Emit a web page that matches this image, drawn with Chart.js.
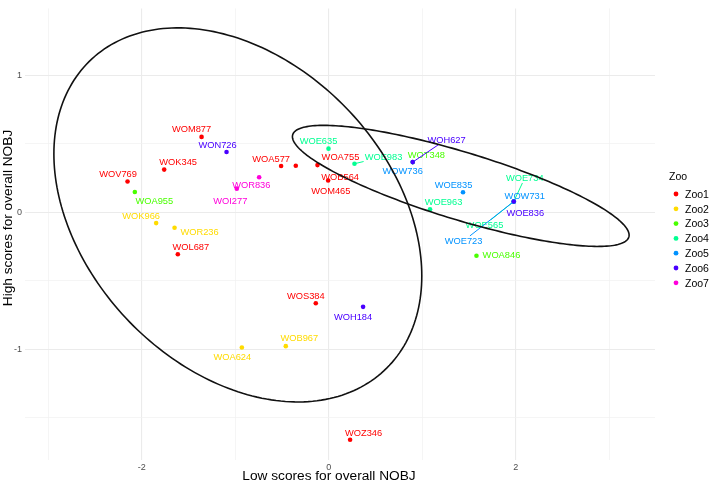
<!DOCTYPE html>
<html>
<head>
<meta charset="utf-8">
<script src="https://cdn.jsdelivr.net/npm/chart.js@4"></script>
<style>
  body { margin: 0; background: #fff; }
  canvas { display: block; }
</style>
</head>
<body>
<canvas id="zooChart" width="709" height="483"></canvas>
<script>
// groups
const zooNames = ['Zoo1', 'Zoo2', 'Zoo3', 'Zoo4', 'Zoo5', 'Zoo6', 'Zoo7'];

// one entry per site
const siteIds = [
  'WOM877', 'WOK345', 'WOV769', 'WOL687', 'WOA577', 'WOM465', 'WOA755', 'WOB564', 'WOS384', 'WOZ346',
  'WOK966', 'WOR236', 'WOB967', 'WOA624',
  'WOA955', 'WOT348', 'WOA846',
  'WOE635', 'WOE983', 'WOE963', 'WOE734', 'WOE565',
  'WOW736', 'WOE835', 'WOW731', 'WOE723',
  'WON726', 'WOH627', 'WOE836', 'WOH184',
  'WOR836', 'WOI277'
];
const siteZoo = [
  'Zoo1', 'Zoo1', 'Zoo1', 'Zoo1', 'Zoo1', 'Zoo1', 'Zoo1', 'Zoo1', 'Zoo1', 'Zoo1',
  'Zoo2', 'Zoo2', 'Zoo2', 'Zoo2',
  'Zoo3', 'Zoo3', 'Zoo3',
  'Zoo4', 'Zoo4', 'Zoo4', 'Zoo4', 'Zoo4',
  'Zoo5', 'Zoo5', 'Zoo5', 'Zoo5',
  'Zoo6', 'Zoo6', 'Zoo6', 'Zoo6',
  'Zoo7', 'Zoo7'
];
const lowScores = [
  -1.361, -1.761, -2.153, -1.615, -0.510, -0.353, -0.121, -0.007, -0.139, 0.228,
  -1.847, -1.650, -0.460, -0.930,
  -2.075, 0.898, 1.580,
  -0.003, 0.275, 1.083, 1.979, 1.979,
  0.898, 1.436, 1.979, 1.979,
  -1.094, 0.898, 1.979, 0.367,
  -0.745, -0.984
];
const highScores = [
  0.551, 0.312, 0.225, -0.307, 0.338, 0.340, 0.345, 0.232, -0.665, -1.662,
  -0.079, -0.113, -0.978, -0.988,
  0.148, 0.367, -0.317,
  0.465, 0.355, 0.022, 0.079, 0.079,
  0.367, 0.146, 0.079, 0.079,
  0.441, 0.367, 0.079, -0.691,
  0.256, 0.173
];

const xTicks = [-3, -2, -1, 0, 1, 2, 3];
const yTicks = [-1.5, -1, -0.5, 0, 0.5, 1];

// styling
const zooColors = ['#FF0000', '#FFDB00', '#49FF00', '#00FF92', '#0092FF', '#4900FF', '#FF00DB'];
const FONT = '"Liberation Sans", Arial, sans-serif';

// label placement (pixels from the point), like ggrepel output
const labelNudge = {
  WOM877: [-10, -8], WON726: [-9, -7.5], WOK345: [14, -8], WOV769: [-9.5, -7.5],
  WOA577: [-10, -7.5], WOA755: [23, -8.6], WOB564: [12, -4], WOM465: [35, 24.5],
  WOE635: [-10, -7.7], WOE983: [29, -7], WOT348: [13.7, -7.6], WOW736: [-10, 9],
  WOH627: [33.8, -22.8], WOE835: [-9.5, -7.5], WOE963: [13.5, -7.5], WOE734: [11, -23.5],
  WOW731: [11, -6], WOE836: [11.5, 11.5], WOE565: [-29.3, 23.4], WOE723: [-50.2, 39.4],
  WOA846: [25, -0.6], WOA955: [19.5, 8.5], WOR836: [-7.8, 7.3], WOI277: [-6.5, 12],
  WOK966: [-15, -7.3], WOR236: [25, 4], WOL687: [13, -8], WOS384: [-10, -8],
  WOH184: [-10, 9.5], WOB967: [13.5, -8], WOA624: [-9.5, 9.5], WOZ346: [13.5, -7.5]
};
const segmentLabels = ['WOE983', 'WOH627', 'WOE734', 'WOE565', 'WOE723'];

// ellipse shapes in data units: x = cx + a*cos t, y = cy + c*cos t + d*sin t
const ellipseShapes = [
  { cx: -0.973, cy: -0.019, a: 1.968, c: -0.4457, d: 1.292 },
  { cx: 1.412, cy: 0.193, a: 1.801, c: -0.3597, d: 0.2575 }
];

const datasets = zooNames.map((zoo, i) => ({
  label: zoo,
  data: siteIds
    .map((id, k) => ({ x: lowScores[k], y: highScores[k], id: id, zoo: siteZoo[k] }))
    .filter(p => p.zoo === zoo),
  backgroundColor: zooColors[i],
  borderColor: zooColors[i],
  pointRadius: 2.3,
  pointBorderWidth: 0,
  pointHoverRadius: 2.3,
  order: zooNames.length - 1 - i
}));

const siteLabels = {
  id: 'siteLabels',
  beforeDatasetsDraw(chart) {
    const ctx = chart.ctx;
    ctx.save();
    ctx.font = '9.3px ' + FONT;
    ctx.textAlign = 'center';
    ctx.textBaseline = 'alphabetic';
    chart.data.datasets.forEach((ds, di) => {
      const meta = chart.getDatasetMeta(di);
      meta.data.forEach((pt, i) => {
        const id = ds.data[i].id;
        const nudge = labelNudge[id] || [0, -8];
        const lx = pt.x + nudge[0], ly = pt.y + nudge[1];
        if (segmentLabels.includes(id)) {
          const w = ctx.measureText(id).width / 2 + 1;
          const h = 5;
          const vx = lx - pt.x, vy = ly - pt.y;
          const s = Math.min(vx ? w / Math.abs(vx) : 1, vy ? h / Math.abs(vy) : 1);
          ctx.strokeStyle = ds.borderColor;
          ctx.lineWidth = 1;
          ctx.beginPath();
          ctx.moveTo(pt.x, pt.y);
          ctx.lineTo(pt.x + vx * (1 - s), pt.y + vy * (1 - s));
          ctx.stroke();
        }
        ctx.fillStyle = ds.backgroundColor;
        ctx.fillText(id, lx, ly + 3.3);
      });
    });
    ctx.restore();
  }
};

const ellipses = {
  id: 'ellipses',
  afterDatasetsDraw(chart) {
    const ctx = chart.ctx;
    const xs = chart.scales.x, ys = chart.scales.y;
    ctx.save();
    ctx.strokeStyle = '#111';
    ctx.lineWidth = 1.6;
    ellipseShapes.forEach(e => {
      ctx.beginPath();
      for (let k = 0; k <= 240; k++) {
        const t = k / 240 * Math.PI * 2;
        const px = xs.getPixelForValue(e.cx + e.a * Math.cos(t));
        const py = ys.getPixelForValue(e.cy + e.c * Math.cos(t) + e.d * Math.sin(t));
        if (k === 0) ctx.moveTo(px, py); else ctx.lineTo(px, py);
      }
      ctx.closePath();
      ctx.stroke();
    });
    ctx.restore();
  }
};

const extras = {
  id: 'extras',
  afterDraw(chart) {
    const ctx = chart.ctx;
    ctx.save();
    // axis titles
    ctx.fillStyle = '#000';
    ctx.font = '13.7px ' + FONT;
    ctx.textAlign = 'center';
    ctx.textBaseline = 'alphabetic';
    ctx.fillText('Low scores for overall NOBJ', 329, 480);
    ctx.save();
    ctx.translate(11.5, 218);
    ctx.rotate(-Math.PI / 2);
    ctx.fillText('High scores for overall NOBJ', 0, 0);
    ctx.restore();
    // legend
    ctx.textAlign = 'left';
    ctx.font = '10.5px ' + FONT;
    ctx.fillText('Zoo', 669, 180.3);
    zooNames.forEach((z, i) => {
      const y = 194 + i * 14.8;
      ctx.fillStyle = zooColors[i];
      ctx.beginPath();
      ctx.arc(676, y, 2.4, 0, Math.PI * 2);
      ctx.fill();
      ctx.fillStyle = '#000';
      ctx.fillText(z, 685, y + 3.8);
    });
    ctx.restore();
  }
};

const gridColor = major => major ? '#EBEBEB' : '#F0F0F0';

new Chart(document.getElementById('zooChart'), {
  type: 'scatter',
  data: { datasets: datasets },
  plugins: [siteLabels, ellipses, extras],
  options: {
    responsive: false,
    animation: false,
    layout: { padding: { left: 0, right: 54, top: 1, bottom: 0 } },
    plugins: { legend: { display: false }, tooltip: { enabled: false } },
    scales: {
      x: {
        type: 'linear',
        min: -3.25,
        max: 3.49,
        afterBuildTicks: s => { s.ticks = xTicks.map(v => ({ value: v })); },
        afterFit: s => { s.height = 23; },
        border: { display: false },
        grid: {
          drawTicks: false,
          color: c => gridColor(c.tick && c.tick.value % 2 === 0),
          lineWidth: c => (c.tick && c.tick.value % 2 === 0) ? 1.1 : 0.7
        },
        ticks: {
          autoSkip: false,
          maxRotation: 0,
          padding: 2,
          color: '#4D4D4D',
          font: { family: FONT, size: 9 },
          callback: v => (v % 2 === 0 ? String(v) : '')
        }
      },
      y: {
        type: 'linear',
        min: -1.81,
        max: 1.49,
        afterBuildTicks: s => { s.ticks = yTicks.map(v => ({ value: v })); },
        afterFit: s => { s.width = 25; },
        border: { display: false },
        grid: {
          drawTicks: false,
          color: c => gridColor(c.tick && Number.isInteger(c.tick.value)),
          lineWidth: c => (c.tick && Number.isInteger(c.tick.value)) ? 1.1 : 0.7
        },
        ticks: {
          autoSkip: false,
          padding: 3,
          color: '#4D4D4D',
          font: { family: FONT, size: 9 },
          callback: v => (Number.isInteger(v) ? String(v) : '')
        }
      }
    }
  }
});
</script>
</body>
</html>
